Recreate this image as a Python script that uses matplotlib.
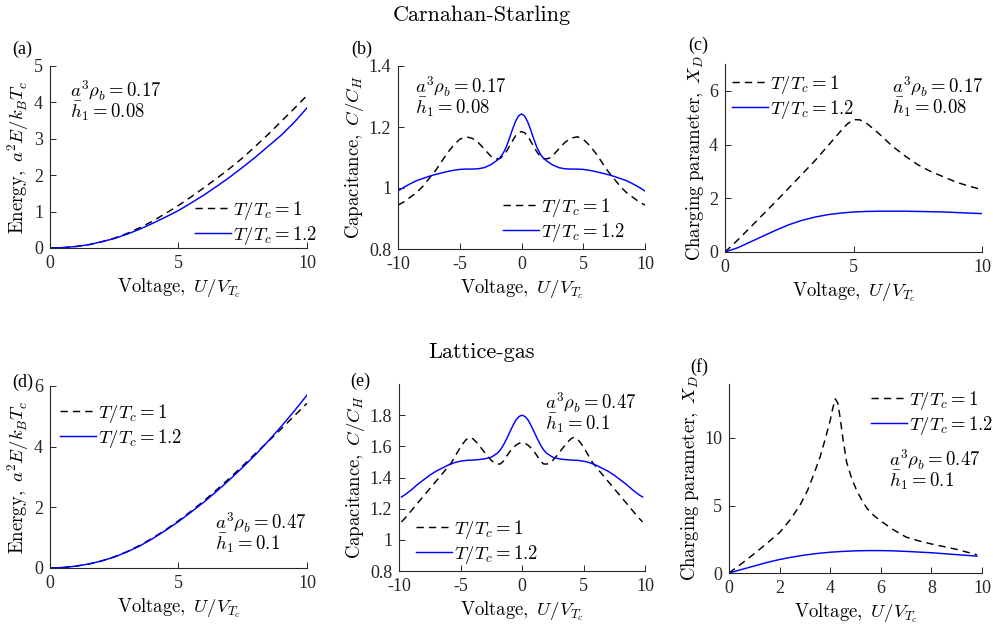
import matplotlib
matplotlib.use("Agg")
import matplotlib.pyplot as plt

plt.rcParams['mathtext.fontset'] = 'cm'
plt.rcParams['font.family'] = ['Liberation Serif', 'DejaVu Serif']
plt.rcParams['axes.unicode_minus'] = False

# ---------------- data ----------------
# (a) Carnahan-Starling energy
ua = [0, 0.5, 1, 1.5, 2, 2.5, 3, 3.5, 4, 4.5, 5, 5.5, 6, 6.5, 7, 7.5, 8, 8.5, 9, 9.5, 10]
Ea_T1 = [0, 0.01, 0.04, 0.09, 0.17, 0.27, 0.40, 0.56, 0.74, 0.95, 1.17, 1.41, 1.66, 1.92, 2.19, 2.48, 2.80, 3.13, 3.48, 3.83, 4.19]
Ea_T12 = [0, 0.01, 0.04, 0.09, 0.17, 0.26, 0.38, 0.52, 0.68, 0.85, 1.03, 1.24, 1.46, 1.70, 1.95, 2.22, 2.50, 2.80, 3.10, 3.45, 3.85]

# (b) Carnahan-Starling capacitance (symmetric in U; values for U >= 0)
ub_T1 = [0, 0.25, 0.5, 0.75, 1, 1.25, 1.5, 1.75, 2, 2.25, 2.5, 3, 3.5, 4, 4.5, 5, 5.5, 6, 6.5, 7, 7.5, 8, 8.5, 9, 9.5, 10]
Cb_T1 = [1.185, 1.181, 1.170, 1.153, 1.135, 1.118, 1.105, 1.097, 1.095, 1.098, 1.105, 1.127, 1.149, 1.163, 1.168, 1.160, 1.140, 1.115, 1.085, 1.055,
         1.030, 1.005, 0.985, 0.970, 0.955, 0.944]
ub_T12 = [0, 0.25, 0.5, 0.75, 1, 1.25, 1.5, 1.75, 2, 2.5, 3, 3.5, 4, 4.5, 5, 5.5, 6, 6.5, 7, 7.5, 8, 8.5, 9, 9.5, 10]
Cb_T12 = [1.243, 1.236, 1.217, 1.190, 1.160, 1.133, 1.113, 1.099, 1.090, 1.076, 1.067, 1.063, 1.062, 1.062, 1.061, 1.058, 1.054, 1.049, 1.044,
          1.038, 1.031, 1.024, 1.014, 1.003, 0.990]

# (c) Carnahan-Starling charging parameter
uc = [0, 0.5, 1, 1.5, 2, 2.5, 3, 3.5, 4, 4.5, 4.75, 5, 5.25, 5.5, 6, 6.5, 7, 7.5, 8, 8.5, 9, 9.5, 10]
Xc_T1 = [0, 0.45, 0.93, 1.42, 1.90, 2.40, 2.90, 3.40, 3.95, 4.50, 4.76, 4.93, 4.92, 4.80, 4.40, 3.95, 3.58, 3.25, 3.00, 2.80, 2.60, 2.45, 2.32]
uc2 = [0, 0.5, 1, 1.5, 2, 2.5, 3, 3.5, 4, 4.5, 5, 5.5, 6, 6.5, 7, 7.5, 8, 8.5, 9, 9.5, 10]
Xc_T12 = [0, 0.16, 0.38, 0.60, 0.82, 1.02, 1.18, 1.30, 1.39, 1.45, 1.49, 1.51, 1.52, 1.52, 1.52, 1.51, 1.50, 1.49, 1.47, 1.45, 1.43]

# (d) Lattice-gas energy
ud = [0, 0.5, 1, 1.5, 2, 2.5, 3, 3.5, 4, 4.5, 5, 5.5, 6, 6.5, 7, 7.5, 8, 8.5, 9, 9.5, 10]
Ed_T1 = [0, 0.015, 0.06, 0.13, 0.23, 0.37, 0.54, 0.75, 0.99, 1.26, 1.56, 1.88, 2.22, 2.59, 2.97, 3.37, 3.78, 4.18, 4.59, 5.01, 5.43]
Ed_T12 = [0, 0.015, 0.06, 0.13, 0.23, 0.36, 0.53, 0.73, 0.97, 1.24, 1.53, 1.85, 2.18, 2.54, 2.92, 3.32, 3.74, 4.19, 4.67, 5.17, 5.70]

# (e) Lattice-gas capacitance (symmetric in U; values for U >= 0)
ue_T1 = [0, 0.25, 0.5, 0.75, 1, 1.25, 1.5, 1.75, 2, 2.25, 2.5, 2.75, 3, 3.25, 3.5, 3.75, 4, 4.2, 4.4, 4.6, 4.8, 5, 5.25, 5.5, 5.75, 6,
         6.5, 7, 7.5, 8, 8.5, 9, 9.5, 9.8]
Ce_T1 = [1.623, 1.619, 1.607, 1.588, 1.565, 1.536, 1.506, 1.487, 1.486, 1.494, 1.510, 1.532, 1.556, 1.582, 1.607, 1.630, 1.649, 1.657, 1.652,
         1.638, 1.618, 1.595, 1.562, 1.528, 1.494, 1.470, 1.422, 1.375, 1.328, 1.281, 1.234, 1.187, 1.140, 1.115]
ue_T12 = [0, 0.25, 0.5, 0.75, 1, 1.25, 1.5, 1.75, 2, 2.5, 3, 3.5, 4, 4.5, 5, 5.5, 6, 6.5, 7, 7.5, 8, 8.5, 9, 9.5, 9.8]
Ce_T12 = [1.800, 1.791, 1.768, 1.732, 1.690, 1.648, 1.610, 1.578, 1.556, 1.530, 1.520, 1.515, 1.512, 1.510, 1.505, 1.495, 1.480, 1.460, 1.440,
          1.415, 1.385, 1.355, 1.320, 1.290, 1.275]

# (f) Lattice-gas charging parameter
uf_T1 = [0, 0.5, 1, 1.5, 2, 2.4, 2.8, 3.1, 3.35, 3.6, 3.8, 4.0, 4.1, 4.2, 4.3, 4.4, 4.5, 4.65, 4.85, 5.05, 5.25, 5.45, 5.7, 6.0,
         6.5, 7.0, 7.5, 8.0, 8.5, 9.0, 9.5, 9.8]
Xf_T1 = [0, 0.70, 1.43, 2.20, 3.00, 3.90, 5.00, 6.10, 7.30, 8.60, 9.90, 11.3, 12.2, 12.9, 12.6, 11.4, 10.0, 8.20, 7.00, 6.10, 5.40, 4.80,
         4.30, 3.85, 3.20, 2.66, 2.38, 2.15, 1.95, 1.75, 1.50, 1.35]
uf_T12 = [0, 0.5, 1, 1.5, 2, 2.5, 3, 3.5, 4, 4.5, 5, 5.5, 6, 6.5, 7, 7.5, 8, 8.5, 9, 9.5, 9.8]
Xf_T12 = [0, 0.26, 0.52, 0.78, 1.00, 1.18, 1.33, 1.45, 1.54, 1.60, 1.64, 1.66, 1.66, 1.64, 1.60, 1.55, 1.50, 1.43, 1.36, 1.29, 1.25]

labels = [r'$T/T_c = 1$', r'$T/T_c = 1.2$']


def mirror(u, v):
    """Full symmetric curve from the U >= 0 half."""
    uu = [-x for x in reversed(u[1:])] + list(u)
    vv = list(reversed(v[1:])) + list(v)
    return uu, vv


# ---------------- layout ----------------
W, H = 993, 625
fig = plt.figure(figsize=(W / 100, H / 100), dpi=100)


def pax(x0, y0, x1, y1):
    return fig.add_axes([x0 / W, 1 - y1 / H, (x1 - x0) / W, (y1 - y0) / H])


AX_C = '#262626'
FS_T = 13
FS_L = 13.5
BLUE = '#0000ff'
LW = 1.05
DASH = (5, 3.5)


def style(ax):
    for s in ['top', 'right']:
        ax.spines[s].set_visible(False)
    for s in ['left', 'bottom']:
        ax.spines[s].set_color(AX_C)
        ax.spines[s].set_linewidth(0.8)
    ax.tick_params(direction='in', length=4, width=0.7, colors=AX_C, labelsize=FS_T, pad=5)


def lines(ax, u1, v1, u2, v2):
    ax.plot(u1, v1, color='k', ls='--', dashes=DASH, lw=LW, label=labels[0])
    ax.plot(u2, v2, '-', color=BLUE, lw=LW, label=labels[1])


def legend(ax, x, y):
    ax.legend(loc='upper left', bbox_to_anchor=(x / W, 1 - y / H), bbox_transform=fig.transFigure,
              frameon=False, fontsize=FS_L, handlelength=1.9, handletextpad=0.15, labelspacing=0.1,
              borderpad=0, borderaxespad=0)


def annot(x, y, rho, h):
    fig.text(x / W, 1 - y / H, r'$a^3\rho_b = %s$' % rho, fontsize=FS_L, va='center', ha='left')
    fig.text(x / W, 1 - (y + 21) / H, r'$\bar{h}_1 = %s$' % h, fontsize=FS_L, va='center', ha='left')


xlab = r'$\mathrm{Voltage},\ U/V_{T_c}$'
ylab_E = r'$\mathrm{Energy},\ a^2E/k_BT_c$'
ylab_C = r'$\mathrm{Capacitance},\ C/C_H$'
ylab_X = r'$\mathrm{Charging\ parameter},\ X_D$'

# (a)
ax = pax(50, 66, 307, 248)
lines(ax, ua, Ea_T1, ua, Ea_T12)
ax.set_xlim(0, 10); ax.set_ylim(0, 5)
ax.set_xticks([0, 5, 10]); ax.set_yticks([0, 1, 2, 3, 4, 5])
ax.set_xlabel(xlab, fontsize=FS_L, labelpad=3)
ax.set_ylabel(ylab_E, fontsize=FS_L, labelpad=2)
style(ax)
legend(ax, 195, 199)
annot(70, 90, '0.17', '0.08')

# (b)
ax = pax(398, 66, 645, 249)
u1, v1 = mirror(ub_T1, Cb_T1)
u2, v2 = mirror(ub_T12, Cb_T12)
lines(ax, u1, v1, u2, v2)
ax.set_xlim(-10, 10); ax.set_ylim(0.8, 1.4)
ax.set_xticks([-10, -5, 0, 5, 10]); ax.set_yticks([0.8, 1.0, 1.2, 1.4])
ax.set_yticklabels(['0.8', '1', '1.2', '1.4'])
ax.set_xlabel(xlab, fontsize=FS_L, labelpad=3)
ax.set_ylabel(ylab_C, fontsize=FS_L, labelpad=2)
style(ax)
legend(ax, 503, 196)
annot(415, 86, '0.17', '0.08')

# (c)
ax = pax(725, 64, 982, 252)
lines(ax, uc, Xc_T1, uc2, Xc_T12)
ax.set_xlim(0, 10); ax.set_ylim(0, 7)
ax.set_xticks([0, 5, 10]); ax.set_yticks([0, 2, 4, 6])
ax.set_xlabel(xlab, fontsize=FS_L, labelpad=3)
ax.set_ylabel(ylab_X, fontsize=FS_L, labelpad=2)
style(ax)
legend(ax, 732, 73)
annot(892, 86, '0.17', '0.08')

# (d)
ax = pax(50, 386, 307, 568)
lines(ax, ud, Ed_T1, ud, Ed_T12)
ax.set_xlim(0, 10); ax.set_ylim(0, 6)
ax.set_xticks([0, 5, 10]); ax.set_yticks([0, 2, 4, 6])
ax.set_xlabel(xlab, fontsize=FS_L, labelpad=3)
ax.set_ylabel(ylab_E, fontsize=FS_L, labelpad=2)
style(ax)
legend(ax, 60, 402)
annot(215, 522, '0.47', '0.1')

# (e)
ax = pax(399, 384, 645, 571)
u1, v1 = mirror(ue_T1, Ce_T1)
u2, v2 = mirror(ue_T12, Ce_T12)
lines(ax, u1, v1, u2, v2)
ax.set_xlim(-10, 10); ax.set_ylim(0.8, 2.0)
ax.set_xticks([-10, -5, 0, 5, 10]); ax.set_yticks([0.8, 1.0, 1.2, 1.4, 1.6, 1.8])
ax.set_yticklabels(['0.8', '1', '1.2', '1.4', '1.6', '1.8'])
ax.set_xlabel(xlab, fontsize=FS_L, labelpad=3)
ax.set_ylabel(ylab_C, fontsize=FS_L, labelpad=2)
style(ax)
legend(ax, 416, 518)
annot(545, 402, '0.47', '0.1')

# (f)
ax = pax(729, 384, 982, 573)
lines(ax, uf_T1, Xf_T1, uf_T12, Xf_T12)
ax.set_xlim(0, 10); ax.set_ylim(0, 14)
ax.set_xticks([0, 2, 4, 6, 8, 10]); ax.set_yticks([0, 5, 10])
ax.set_xlabel(xlab, fontsize=FS_L, labelpad=3)
ax.set_ylabel(ylab_X, fontsize=FS_L, labelpad=2)
style(ax)
legend(ax, 871, 389)
annot(889, 459, '0.47', '0.1')

# panel letters
for lab, x, y in [('(a)', 12, 49), ('(b)', 351, 49), ('(c)', 688, 45),
                  ('(d)', 12, 382), ('(e)', 350, 381), ('(f)', 690, 367)]:
    fig.text(x / W, 1 - y / H, lab, fontsize=13, va='center', ha='left')

fig.text(482 / W, 1 - 15 / H, 'Carnahan-Starling', fontsize=16, family='cmr10', ha='center', va='center')
fig.text(482 / W, 1 - 352 / H, 'Lattice-gas', fontsize=16, family='cmr10', ha='center', va='center')

fig.savefig('out.png', dpi=100)
